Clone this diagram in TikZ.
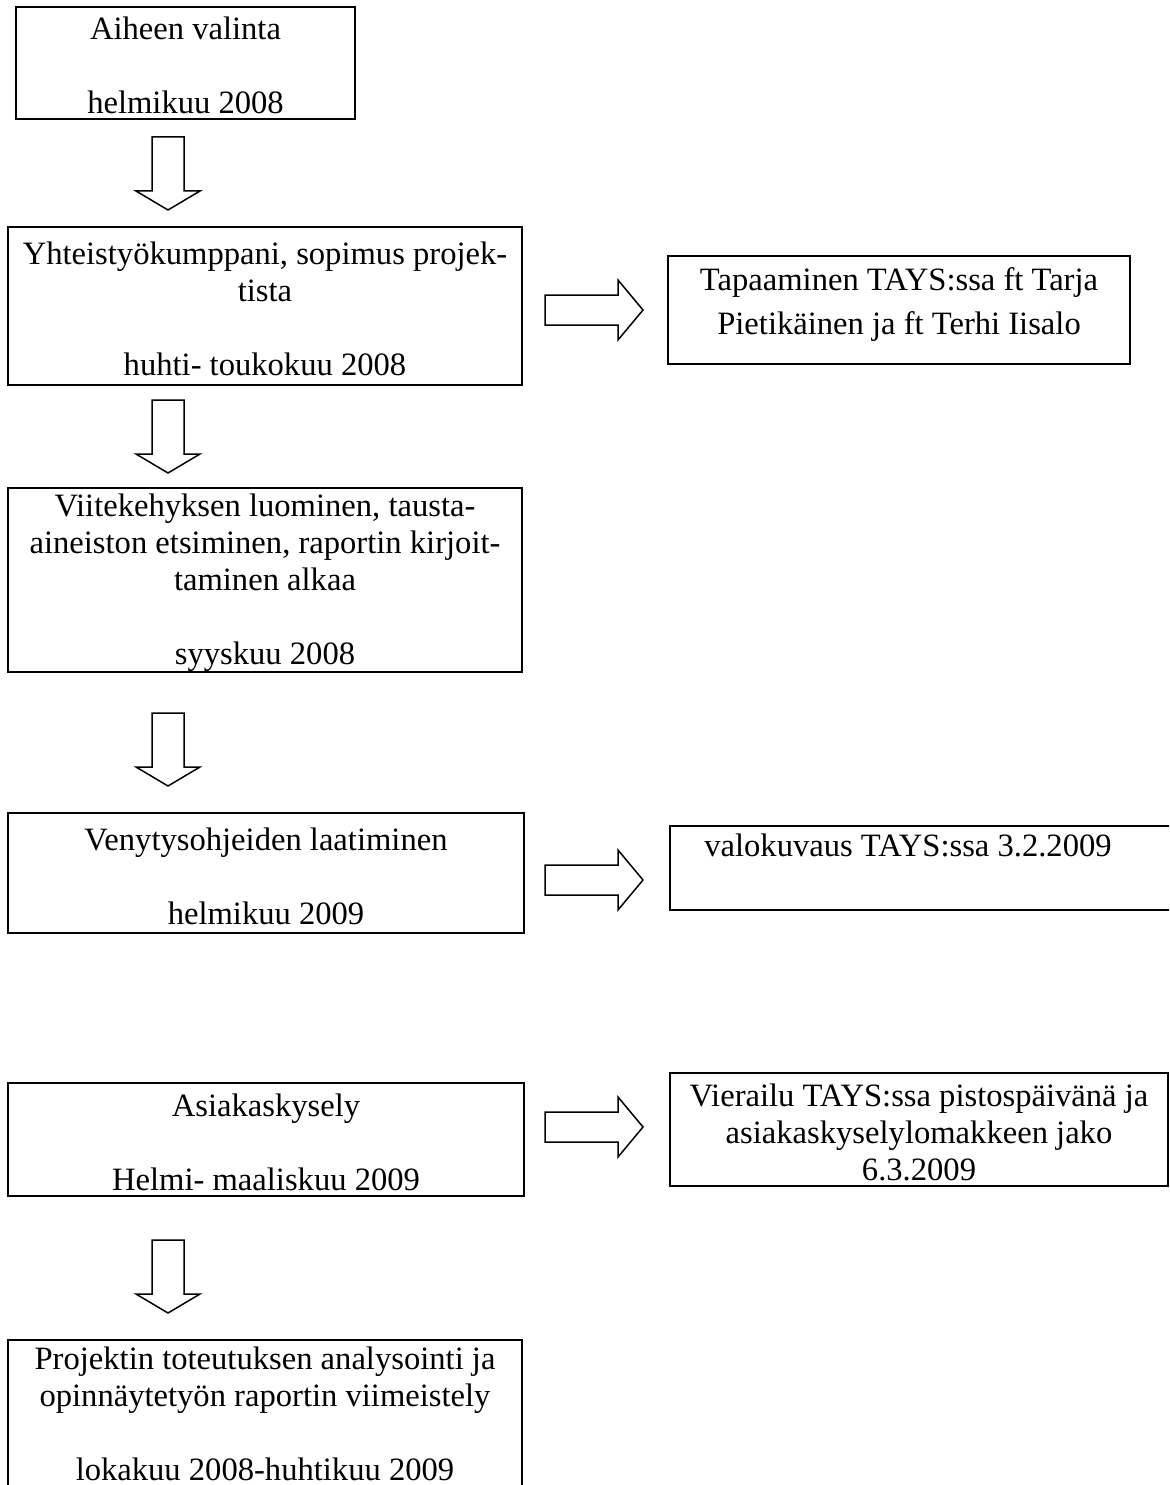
\documentclass[tikz,border=0pt]{standalone}
\usepackage{fontspec}
\setmainfont{Liberation Serif}
\usetikzlibrary{positioning}

\newcommand{\boxfont}{\fontsize{32.6bp}{37bp}\selectfont}
\newcommand{\wstrut}{\rule[-1bp]{0pt}{30bp}}

\tikzset{
  box/.style={draw, line width=2.5bp, rectangle, align=center, inner sep=0pt, font=\boxfont},
  txt/.style={align=center, inner sep=0pt, font=\boxfont},
  arrowline/.style={draw, line width=1.5bp, line join=miter},
  downarrow/.pic={\path[arrowline] (-16,0) -- (16,0) -- (16,54) -- (32,54) -- (0,73) -- (-32,54) -- (-16,54) -- cycle;},
  rightarrow/.pic={\path[arrowline] (0,-15) -- (73,-15) -- (73,-30) -- (98,0) -- (73,30) -- (73,15) -- (0,15) -- cycle;}
}

\begin{document}
\begin{tikzpicture}[x=1bp, y=-1bp]
\clip (0,0) rectangle (1169,1485);

% vasen sarake
\node[box, minimum width=339bp, minimum height=112bp] (valinta) at (185.5,63) {\wstrut Aiheen valinta\\[37bp]helmikuu 2008\wstrut};
\node[box, minimum width=514bp, minimum height=158bp] (sopimus) at (265,306) {\wstrut Yhteistyökumppani, sopimus projek-\\tista\\[37bp]huhti- toukokuu 2008\wstrut};
\node[box, minimum width=514bp, minimum height=184bp] (viitekehys) at (265,580) {\wstrut Viitekehyksen luominen, tausta-\\aineiston etsiminen, raportin kirjoit-\\taminen alkaa\\[37bp]syyskuu 2008\wstrut};
\node[box, minimum width=516bp, minimum height=120bp] (ohjeet) at (266,873) {\wstrut Venytysohjeiden laatiminen\\[37bp]helmikuu 2009\wstrut};
\node[box, minimum width=516bp, minimum height=113bp] (kysely) at (266,1139.5) {\wstrut Asiakaskysely\\[37bp]Helmi- maaliskuu 2009\wstrut};
\node[box, minimum width=514bp, minimum height=160bp] (analyysi) at (265,1420) {};
\node[txt] (analyysiteksti) at (265,1410.5) {\wstrut Projektin toteutuksen analysointi ja\\opinnäytetyön raportin viimeistely\\[37bp]lokakuu 2008-huhtikuu 2009\wstrut};

% oikea sarake
\node[box, minimum width=462bp, minimum height=108bp] (tapaaminen) at (899,310) {};
\node[txt] (tapaaminenteksti) at (899,304) {Tapaaminen TAYS:ssa ft Tarja\\[7bp]Pietikäinen ja ft Terhi Iisalo};
\node[box, minimum width=520bp, minimum height=84bp] (valokuvaus) at (930,868) {};
\node[txt] (valokuvausteksti) at (908,845) {valokuvaus TAYS:ssa 3.2.2009};
\node[box, minimum width=498bp, minimum height=113bp] (vierailu) at (919,1129.5) {\wstrut Vierailu TAYS:ssa pistospäivänä ja\\asiakaskyselylomakkeen jako\\6.3.2009\wstrut};

% nuolet
\pic at (168,137) {downarrow};
\pic at (168,400) {downarrow};
\pic at (168,713) {downarrow};
\pic at (168,1240) {downarrow};
\pic at (545,310) {rightarrow};
\pic at (545,880) {rightarrow};
\pic at (545,1127) {rightarrow};
\end{tikzpicture}
\end{document}
